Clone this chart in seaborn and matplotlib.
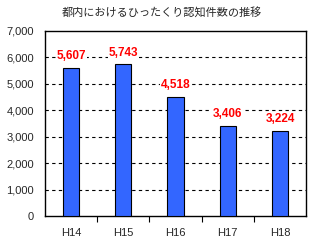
import matplotlib
matplotlib.use("Agg")
import matplotlib.pyplot as plt
import seaborn as sns
import pandas as pd
import numpy as np
from matplotlib.ticker import FixedLocator

years = ["H14", "H15", "H16", "H17", "H18"]
counts = [5607, 5743, 4518, 3406, 3224]
value_labels = ["5,607", "5,743", "4,518", "3,406", "3,224"]
yticks = [0, 1000, 2000, 3000, 4000, 5000, 6000, 7000]
ytick_labels = ["0", "1,000", "2,000", "3,000", "4,000", "5,000", "6,000", "7,000"]
title = "都内におけるひったくり認知件数の推移"

sns.set_theme(style="white")
plt.rcParams['font.family'] = ['Noto Sans CJK JP', 'DejaVu Sans']

df = pd.DataFrame({"year": years, "count": counts})

fig = plt.figure(figsize=(3.12, 2.45), dpi=100)
ax = fig.add_axes([0.144, 0.1184, 0.837, 0.7551])

sns.barplot(data=df, x="year", y="count", color="#3366FF", width=0.31,
            edgecolor="black", linewidth=0.8, saturation=1, ax=ax, zorder=3)

ax.set_ylim(0, 7000)
ax.set_xlim(-0.5, 4.5)
ax.set_yticks(yticks)
ax.set_yticklabels(ytick_labels, fontsize=8, family=['Liberation Sans', 'DejaVu Sans'])
ax.tick_params(axis='y', length=0, pad=8)
ax.tick_params(axis='x', which='major', length=0, pad=9, labelsize=8)
for lbl in ax.get_xticklabels():
    lbl.set_family(['Liberation Sans', 'DejaVu Sans'])
ax.xaxis.set_minor_locator(FixedLocator([0.5, 1.5, 2.5, 3.5]))
ax.tick_params(axis='x', which='minor', length=4, width=0.8, color='black', direction='out', bottom=True)

for y in yticks[1:-1]:
    ax.axhline(y, color='black', linestyle=(0, (3, 3)), linewidth=0.8, zorder=1)

for s in ax.spines.values():
    s.set_color('black')
    s.set_linewidth(1.0)
    s.set_visible(True)

ax.set_xlabel("")
ax.set_ylabel("")
ax.grid(False)

for i, (v, t) in enumerate(zip(counts, value_labels)):
    ax.annotate(t, (i, v), xytext=(0, 4), textcoords='offset points', ha='center', va='bottom',
                color='#FF0000', fontsize=8.5, fontweight='bold', family=['Liberation Sans', 'DejaVu Sans'],
                bbox=dict(facecolor='white', edgecolor='none', pad=0.5), zorder=4)

fig.text(0.52, 0.945, title, ha='center', va='center', fontsize=8)

fig.savefig("out.png", dpi=100, facecolor='white')
